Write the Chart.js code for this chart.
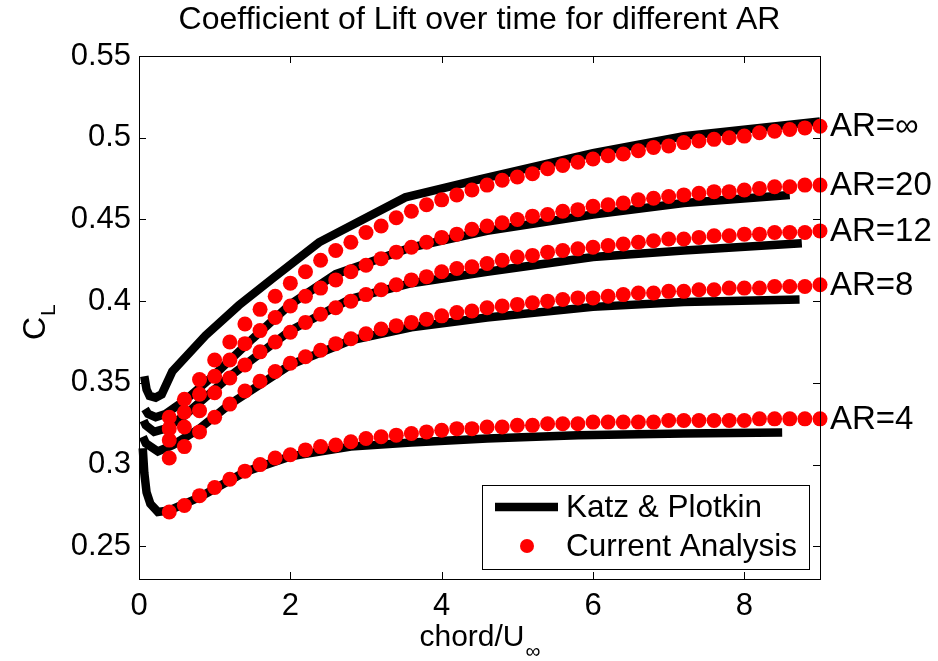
<!DOCTYPE html>
<html>
<head>
<meta charset="utf-8">
<style>
  html, body { margin: 0; padding: 0; background: #fff; }
</style>
<script src="https://cdn.jsdelivr.net/npm/chart.js@4.4.1/dist/chart.umd.min.js"></script>
</head>
<body>
<canvas id="liftChart" width="938" height="661"></canvas>
<script>
const FONT = '"Liberation Sans", Arial, Helvetica, sans-serif';

const seriesNames = ['AR=\u221E', 'AR=20', 'AR=12', 'AR=8', 'AR=4'];

// time samples of the current analysis
const dotX = [0.4, 0.6, 0.8, 1.0, 1.2, 1.4, 1.6, 1.8, 2.0, 2.2, 2.4, 2.6, 2.8, 3.0, 3.2,
  3.4, 3.6, 3.8, 4.0, 4.2, 4.4, 4.6, 4.8, 5.0, 5.2, 5.4, 5.6, 5.8, 6.0, 6.2,
  6.4, 6.6, 6.8, 7.0, 7.2, 7.4, 7.6, 7.8, 8.0, 8.2, 8.4, 8.6, 8.8, 9.0];

const curInf = [0.329, 0.340, 0.352, 0.364, 0.375, 0.386, 0.395, 0.403, 0.411, 0.418, 0.425,
  0.431, 0.436, 0.442, 0.446, 0.451, 0.455, 0.459, 0.462, 0.465, 0.468, 0.471, 0.474, 0.476,
  0.478, 0.481, 0.483, 0.485, 0.487, 0.489, 0.490, 0.492, 0.494, 0.495, 0.497, 0.498, 0.499,
  0.500, 0.501, 0.503, 0.504, 0.505, 0.506, 0.507];
const cur20 = [0.322, 0.332, 0.343, 0.354, 0.364, 0.374, 0.382, 0.390, 0.397, 0.403, 0.408,
  0.413, 0.418, 0.422, 0.426, 0.430, 0.433, 0.436, 0.439, 0.441, 0.444, 0.446, 0.448, 0.450,
  0.452, 0.453, 0.455, 0.456, 0.458, 0.459, 0.460, 0.462, 0.463, 0.464, 0.465, 0.466, 0.467,
  0.467, 0.468, 0.469, 0.470, 0.470, 0.471, 0.471];
const cur12 = [0.315, 0.323, 0.333, 0.344, 0.353, 0.361, 0.369, 0.375, 0.381, 0.387, 0.392,
  0.396, 0.400, 0.404, 0.407, 0.410, 0.413, 0.415, 0.418, 0.420, 0.421, 0.423, 0.425, 0.427,
  0.428, 0.430, 0.431, 0.432, 0.433, 0.434, 0.435, 0.436, 0.437, 0.438, 0.438, 0.439, 0.440,
  0.440, 0.441, 0.441, 0.442, 0.442, 0.442, 0.443];
const cur8 = [0.304, 0.311, 0.320, 0.329, 0.337, 0.345, 0.351, 0.357, 0.362, 0.366, 0.370,
  0.374, 0.377, 0.380, 0.383, 0.385, 0.387, 0.389, 0.391, 0.393, 0.394, 0.396, 0.397, 0.398,
  0.399, 0.400, 0.401, 0.402, 0.402, 0.403, 0.404, 0.405, 0.405, 0.406, 0.406, 0.407, 0.407,
  0.408, 0.408, 0.408, 0.409, 0.409, 0.409, 0.410];
const cur4 = [0.271, 0.275, 0.281, 0.286, 0.291, 0.296, 0.300, 0.304, 0.306, 0.309, 0.311,
  0.312, 0.314, 0.316, 0.317, 0.318, 0.319, 0.320, 0.321, 0.322, 0.322, 0.323, 0.323, 0.324,
  0.324, 0.325, 0.325, 0.325, 0.326, 0.326, 0.326, 0.326, 0.326, 0.327, 0.327, 0.327, 0.327,
  0.327, 0.327, 0.328, 0.328, 0.328, 0.328, 0.328];

// Katz & Plotkin reference curves
const katzInfX = [0.07, 0.1, 0.14, 0.22, 0.3, 0.44, 0.88, 1.32, 1.77, 2.38, 3.52, 4.5, 6.0, 7.2, 9.0];
const katzInfY = [0.354, 0.346, 0.342, 0.341, 0.343, 0.357, 0.379, 0.3975, 0.414, 0.436, 0.4635, 0.4745, 0.4905, 0.501, 0.510];
const katz20X = [0.08, 0.12, 0.22, 0.35, 0.6, 1.0, 1.5, 2.0, 2.6, 3.0, 3.6, 4.6, 6.0, 7.2, 8.6];
const katz20Y = [0.334, 0.331, 0.329, 0.331, 0.339, 0.355, 0.377, 0.398, 0.4165, 0.423, 0.433, 0.443, 0.453, 0.460, 0.465];
const katz12X = [0.06, 0.09, 0.2, 0.35, 0.6, 1.2, 2.0, 2.8, 3.6, 4.6, 6.0, 7.2, 8.76];
const katz12Y = [0.327, 0.324, 0.320, 0.322, 0.330, 0.354, 0.382, 0.4015, 0.411, 0.418, 0.427, 0.431, 0.4355];
const katz8X = [0.05, 0.09, 0.25, 0.45, 0.8, 1.2, 2.0, 2.8, 3.6, 4.6, 6.0, 7.2, 8.73];
const katz8Y = [0.317, 0.313, 0.308, 0.312, 0.322, 0.337, 0.361, 0.376, 0.384, 0.390, 0.3965, 0.3995, 0.401];
const katz4X = [0.05, 0.07, 0.1, 0.15, 0.25, 0.4, 0.8, 1.4, 2.0, 2.8, 3.6, 4.6, 5.8, 7.2, 8.5];
const katz4Y = [0.310, 0.295, 0.283, 0.276, 0.271, 0.272, 0.280, 0.2955, 0.305, 0.311, 0.3135, 0.316, 0.318, 0.319, 0.3197];

const xTickValues = [0, 2, 4, 6, 8];
const yTickValues = [0.25, 0.3, 0.35, 0.4, 0.45, 0.5, 0.55];

const currentSeries = [curInf, cur20, cur12, cur8, cur4];
const katzSeries = [[katzInfX, katzInfY], [katz20X, katz20Y], [katz12X, katz12Y], [katz8X, katz8Y], [katz4X, katz4Y]];

const toPoints = (xs, ys) => xs.map((x, i) => ({ x: x, y: ys[i] }));

const datasets = [];
katzSeries.forEach(([xs, ys], i) => {
  datasets.push({
    label: 'Katz & Plotkin ' + seriesNames[i],
    data: toPoints(xs, ys),
    showLine: true,
    borderColor: '#000',
    borderWidth: 8.5,
    pointRadius: 0,
    tension: 0,
    clip: false,
    order: 2
  });
});
currentSeries.forEach((ys, i) => {
  datasets.push({
    label: 'Current Analysis ' + seriesNames[i],
    data: toPoints(dotX, ys),
    showLine: false,
    pointRadius: 7.5,
    pointBackgroundColor: '#ff0000',
    pointBorderWidth: 0,
    clip: false,
    order: 1
  });
});

// axes box, inward ticks, titles, series labels and legend
const decorations = {
  id: 'decorations',
  afterDatasetsDraw(chart) {
    const ctx = chart.ctx;
    const a = chart.chartArea;
    const xs = chart.scales.x, ys = chart.scales.y;
    const tick = 7;
    ctx.save();
    ctx.strokeStyle = '#000';
    ctx.lineWidth = 1;
    ctx.strokeRect(Math.round(a.left) + 0.5, Math.round(a.top) + 0.5,
      Math.round(a.right - a.left), Math.round(a.bottom - a.top));
    ctx.beginPath();
    xTickValues.forEach(v => {
      const px = Math.round(xs.getPixelForValue(v)) + 0.5;
      ctx.moveTo(px, a.bottom); ctx.lineTo(px, a.bottom - tick);
      ctx.moveTo(px, a.top); ctx.lineTo(px, a.top + tick);
    });
    yTickValues.forEach(v => {
      const py = Math.round(ys.getPixelForValue(v)) + 0.5;
      ctx.moveTo(a.left, py); ctx.lineTo(a.left + tick, py);
      ctx.moveTo(a.right, py); ctx.lineTo(a.right - tick, py);
    });
    ctx.stroke();

    ctx.fillStyle = '#000';
    ctx.textBaseline = 'alphabetic';

    // title
    ctx.font = '32px ' + FONT;
    ctx.textAlign = 'center';
    ctx.fillText('Coefficient of Lift over time for different AR', (a.left + a.right) / 2, 29);

    // x axis label with subscript
    ctx.textAlign = 'left';
    ctx.font = '30px ' + FONT;
    const main = 'chord/U';
    const mw = ctx.measureText(main).width;
    ctx.font = '21px ' + FONT;
    const sw = ctx.measureText('\u221E').width;
    const sx = (a.left + a.right) / 2 - (mw + sw) / 2;
    ctx.font = '30px ' + FONT;
    ctx.fillText(main, sx, 646);
    ctx.font = '21px ' + FONT;
    ctx.fillText('\u221E', sx + mw + 1, 658);

    // y axis label with subscript
    ctx.save();
    ctx.translate(45, 340);
    ctx.rotate(-Math.PI / 2);
    ctx.font = '32px ' + FONT;
    ctx.fillText('C', 0, 0);
    const cw = ctx.measureText('C').width;
    ctx.font = '21px ' + FONT;
    ctx.fillText('L', cw + 1, 10);
    ctx.restore();

    // series labels at the end of each current-analysis curve
    ctx.font = '33px ' + FONT;
    ctx.textAlign = 'left';
    ctx.textBaseline = 'middle';
    currentSeries.forEach((vals, i) => {
      const py = ys.getPixelForValue(vals[vals.length - 1]);
      ctx.fillText(seriesNames[i], a.right + 10, py + 1);
    });

    // legend
    const w = 327, h = 84;
    const bx = Math.round(a.right - 11 - w), by = Math.round(a.bottom - 10 - h);
    ctx.fillStyle = '#fff';
    ctx.fillRect(bx, by, w, h);
    ctx.strokeStyle = '#000';
    ctx.lineWidth = 1;
    ctx.strokeRect(bx + 0.5, by + 0.5, w, h);
    ctx.lineWidth = 8.5;
    ctx.beginPath();
    ctx.moveTo(bx + 13, by + 22);
    ctx.lineTo(bx + 76, by + 22);
    ctx.stroke();
    ctx.fillStyle = '#ff0000';
    ctx.beginPath();
    ctx.arc(bx + 45, by + 61, 7, 0, Math.PI * 2);
    ctx.fill();
    ctx.fillStyle = '#000';
    ctx.font = '31.5px ' + FONT;
    ctx.fillText('Katz & Plotkin', bx + 84, by + 23);
    ctx.fillText('Current Analysis', bx + 84, by + 62);
    ctx.restore();
  }
};

new Chart(document.getElementById('liftChart').getContext('2d'), {
  type: 'scatter',
  data: { datasets: datasets },
  options: {
    responsive: false,
    animation: false,
    layout: { padding: { top: 56, right: 118, left: 0, bottom: 0 } },
    plugins: {
      legend: { display: false },
      title: { display: false },
      tooltip: { enabled: false }
    },
    scales: {
      x: {
        type: 'linear',
        min: 0,
        max: 9,
        grid: { display: false, drawTicks: false },
        border: { display: false },
        ticks: {
          color: '#000',
          font: { family: FONT, size: 31 },
          padding: 9,
          maxRotation: 0,
          autoSkip: false,
          callback: v => String(v)
        },
        afterBuildTicks: s => { s.ticks = xTickValues.map(v => ({ value: v })); },
        afterFit: s => { s.height = 82; }
      },
      y: {
        type: 'linear',
        min: 0.23,
        max: 0.55,
        grid: { display: false, drawTicks: false },
        border: { display: false },
        ticks: {
          color: '#000',
          font: { family: FONT, size: 31 },
          padding: 8,
          autoSkip: false,
          callback: v => String(v)
        },
        afterBuildTicks: s => { s.ticks = yTickValues.map(v => ({ value: v })); },
        afterFit: s => { s.width = 139; }
      }
    }
  },
  plugins: [decorations]
});
</script>
</body>
</html>
